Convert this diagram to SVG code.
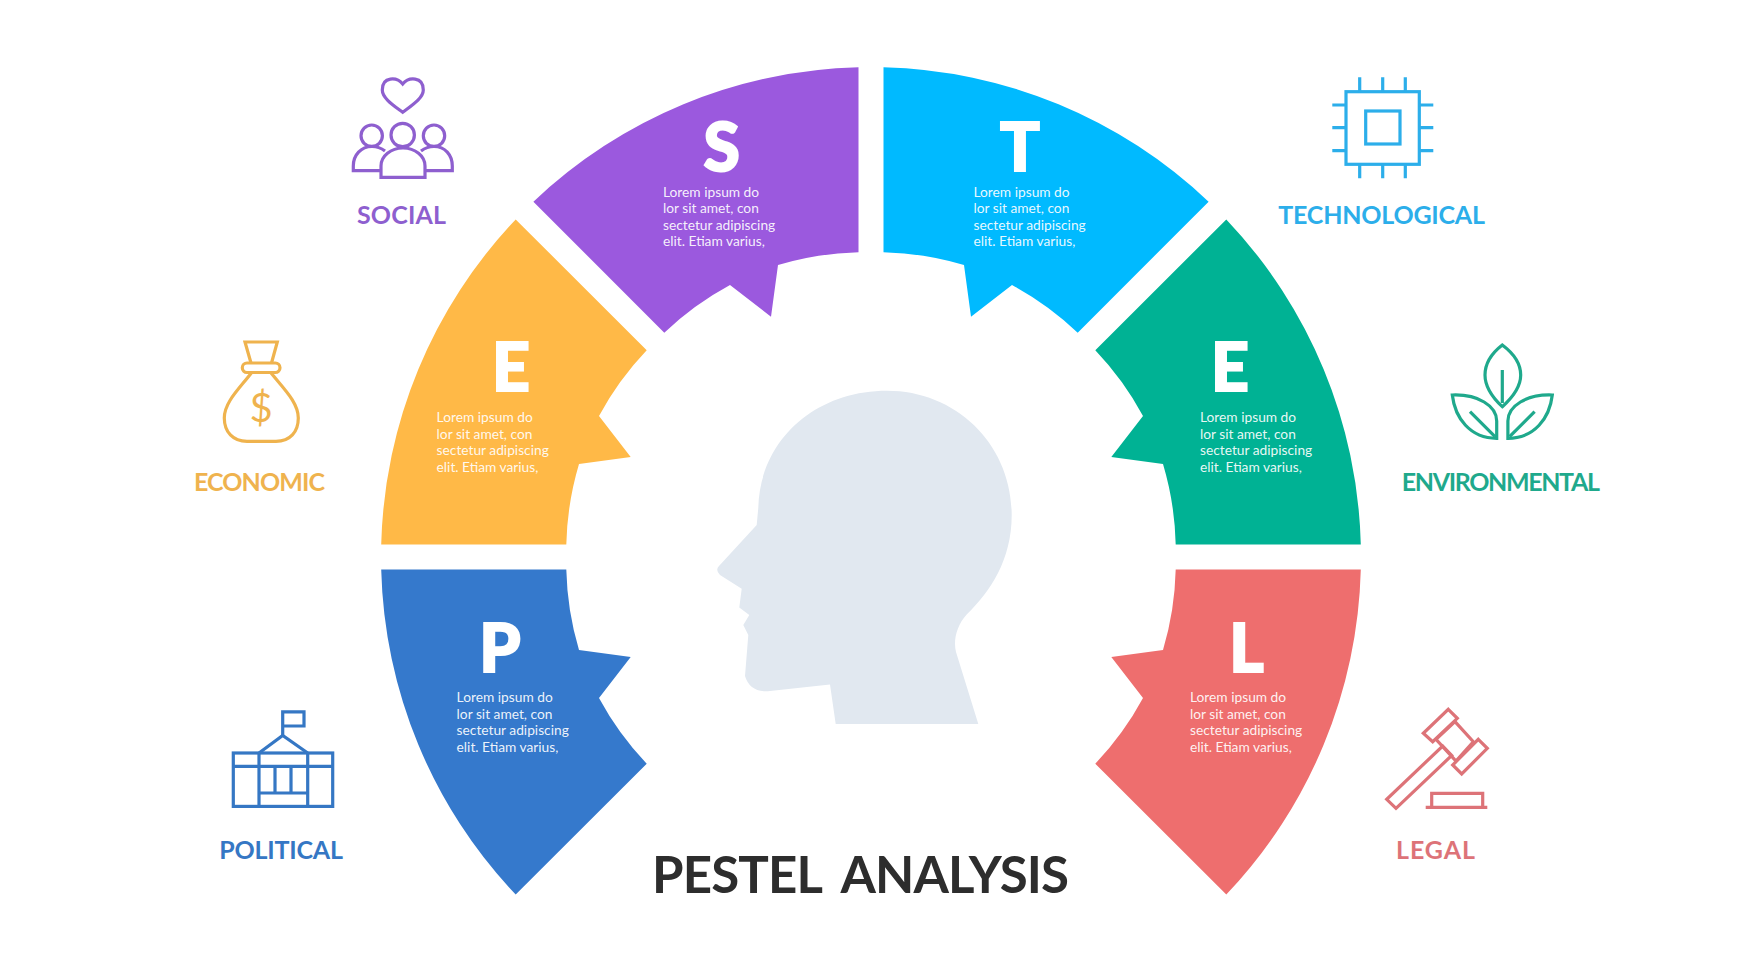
<svg xmlns="http://www.w3.org/2000/svg" width="1742" height="980" viewBox="0 0 1742 980">
<style>
.bg{fill:#fff}
.let{font-family:"Lato","Liberation Sans",sans-serif;font-weight:900;font-size:66px;fill:#fff;stroke:#fff;stroke-width:2;text-anchor:middle}
.txt{font-family:"Lato","Liberation Sans",sans-serif;font-size:13.75px;fill:#fff;fill-opacity:.92}
.lab{font-family:"Lato","Liberation Sans",sans-serif;font-weight:700;font-size:25px}
.ttl{font-family:"Lato","Liberation Sans",sans-serif;font-weight:700;font-size:51px;fill:#2d2d2d;word-spacing:10px}
.ic{fill:none;stroke-width:3.2;stroke-linejoin:miter}
</style>
<defs>
<g id="lorem">
<text class="txt" y="0">Lorem ipsum do</text>
<text class="txt" y="16.5">lor sit amet, con</text>
<text class="txt" y="33">sectetur adipiscing</text>
<text class="txt" y="49.5">elit. Etiam varius,</text>
</g>
</defs>
<rect class="bg" width="1742" height="980"/>

<g id="head"><path fill="#e1e8f0" d="M835.7 724L830 684.4L770 691Q750 693 745 676L748.3 635L743.3 625L749.3 615L739.3 607.6L741.7 588.7L720 575Q715 570 719 566L756.7 525L758.3 507.7C760 440 815 390.7 887 390.7C957 390.7 1011.7 445 1011.7 515C1011.7 560 990 592 966.7 614.5C957 625 953 640 956 652L978.3 724Z"/></g>

<g id="social">
<path fill="#9b59de" d="M858.5 67.2A490 490 0 0 0 533.4 201.7L664.3 332.7A305 305 0 0 1 730 285L771 316.7L778 265A305 305 0 0 1 858.5 252.3Z"/>
<text class="let" x="721.6" y="171">S</text>
<use href="#lorem" x="663" y="196.7"/>
<g class="ic" stroke="#8e5fcf">
<path d="M402.7 84C397 77 382.3 76 382.3 90C382.3 98 393 105 402.7 112.3C412.4 105 423.3 98 423.3 90C423.3 76 408.4 77 402.7 84Z"/>
<circle cx="402.7" cy="135" r="11.7"/><circle cx="371.7" cy="135.7" r="10.7"/><circle cx="434" cy="135.7" r="10.7"/>
<path d="M381 177.3V166A22 18 0 0 1 425 166V177.3Z"/>
<path d="M381 170.7H353.3V166C353.3 155 361 146.5 372 146.5C377 146.5 381 148 385 151"/>
<path d="M425 170.7H452.3V166C452.3 155 445 146.5 434 146.5C429 146.5 425 148 421 151"/>
</g>
<text class="lab" x="357" y="224" fill="#8e5fcf" textLength="89" lengthAdjust="spacing">SOCIAL</text>
</g>

<g id="technological">
<path fill="#00baff" d="M883.5 67.2A490 490 0 0 1 1208.6 201.7L1077.7 332.7A305 305 0 0 0 1012 285L971 316.7L964 265A305 305 0 0 0 883.5 252.3Z"/>
<text class="let" x="1020" y="171">T</text>
<use href="#lorem" x="973.5" y="196.7"/>
<g class="ic" stroke="#2caeea">
<rect x="1346" y="91.7" width="73.3" height="72.6"/>
<rect x="1365.7" y="111" width="34.3" height="33"/>
<path d="M1359.7 77.3V91.7M1382.7 77.3V91.7M1405.3 77.3V91.7M1359.7 164.3V178.3M1382.7 164.3V178.3M1405.3 164.3V178.3M1332.3 105H1346M1332.3 127.7H1346M1332.3 150.7H1346M1419.3 105H1433.3M1419.3 127.7H1433.3M1419.3 150.7H1433.3"/>
</g>
<text class="lab" x="1278.3" y="224" fill="#2caeea" textLength="206.7" lengthAdjust="spacing">TECHNOLOGICAL</text>
</g>

<g id="economic">
<path fill="#ffb947" d="M381.2 544.5A490 490 0 0 1 515.7 219.4L646.7 350.3A305 305 0 0 0 599 416L630.7 457L579 464A305 305 0 0 0 566.3 544.5Z"/>
<text class="let" x="511" y="391">E</text>
<use href="#lorem" x="436.6" y="422"/>
<g class="ic" stroke="#efb34e">
<path d="M251 363L245 342H277.3L271.5 363"/>
<rect x="242.3" y="363" width="37.7" height="9.5" rx="4.7"/>
<path d="M251.7 372.5C240 388 224.3 402 224.3 418C224.3 432 233 441.4 247 441.4H276C290 441.4 298.3 432 298.3 418C298.3 402 283 388 270.7 372.5"/>
</g>
<text x="261" y="422" text-anchor="middle" font-family="Lato,'Liberation Sans',sans-serif" font-size="40" font-weight="400" fill="#efb34e">$</text>
<text class="lab" x="194" y="490.7" fill="#efb34e" textLength="131" lengthAdjust="spacing">ECONOMIC</text>
</g>

<g id="environmental">
<path fill="#00b294" d="M1360.8 544.5A490 490 0 0 0 1226.3 219.4L1095.3 350.3A305 305 0 0 1 1143 416L1111.3 457L1163 464A305 305 0 0 1 1175.7 544.5Z"/>
<text class="let" x="1230" y="391">E</text>
<use href="#lorem" x="1200" y="422"/>
<g class="ic" stroke="#1fa98c">
<path d="M1502.3 345C1492 353 1485 363 1485 375C1485 387 1493 398 1502.3 406.7C1512 398 1520.7 387 1520.7 375C1520.7 363 1513 353 1502.3 345Z"/>
<path d="M1502.3 370V403"/>
<path d="M1452.3 395C1455 418 1470 438.3 1496.7 438.3V421C1496.7 406 1478 394 1452.3 395Z"/>
<path d="M1470 411.7L1495 436.7"/>
<path d="M1552.3 395C1549.6 418 1534.6 438.3 1507.9 438.3V421C1507.9 406 1526.6 394 1552.3 395Z"/>
<path d="M1534.6 411.7L1509.6 436.7"/>
</g>
<text class="lab" x="1401.7" y="491" fill="#1fa98c" textLength="198.3" lengthAdjust="spacing">ENVIRONMENTAL</text>
</g>

<g id="political">
<path fill="#3579cc" d="M381.2 569.5A490 490 0 0 0 515.7 894.6L646.7 763.7A305 305 0 0 1 599 698L630.7 657L579 650A305 305 0 0 1 566.3 569.5Z"/>
<text class="let" x="500" y="672">P</text>
<use href="#lorem" x="456.6" y="702"/>
<g class="ic" stroke="#3577c4">
<path d="M282.7 735.4V711.8H304V726H282.7"/>
<path d="M259 753L282.7 735.4L307.7 753"/>
<rect x="233.3" y="753" width="99.4" height="53.4"/>
<path d="M259 753V806.4M307.7 753V806.4M233.3 766.4H332.7M259 793H307.7M275 766.4V793M291 766.4V793"/>
</g>
<text class="lab" x="219.3" y="859" fill="#3577c4" textLength="123.7" lengthAdjust="spacing">POLITICAL</text>
</g>

<g id="legal">
<path fill="#ee6e6e" d="M1360.8 569.5A490 490 0 0 1 1226.3 894.6L1095.3 763.7A305 305 0 0 0 1143 698L1111.3 657L1163 650A305 305 0 0 0 1175.7 569.5Z"/>
<text class="let" x="1246.6" y="672">L</text>
<use href="#lorem" x="1190" y="702"/>
<g class="ic" stroke="#dd7378">
<path d="M1455 721.7L1473.3 741.7L1456 761L1436 739.3Z"/>
<path d="M1448.3 709.3L1457.3 718.3L1432.7 741.7L1423.3 733.3Z"/>
<path d="M1478.3 739.3L1487.3 748.3L1461.7 774L1452.7 765Z"/>
<path d="M1442.7 746L1451.7 755.5L1396 808.3L1386.7 799.3Z"/>
<path d="M1431.7 807.3V793.3H1482.7V807.3M1425.7 807.3H1487.3"/>
</g>
<text class="lab" x="1396" y="859" fill="#dd7378" textLength="79" lengthAdjust="spacing">LEGAL</text>
</g>

<g id="title"><text class="ttl" x="652" y="893.4" textLength="417" lengthAdjust="spacing">PESTEL ANALYSIS</text></g>
</svg>
